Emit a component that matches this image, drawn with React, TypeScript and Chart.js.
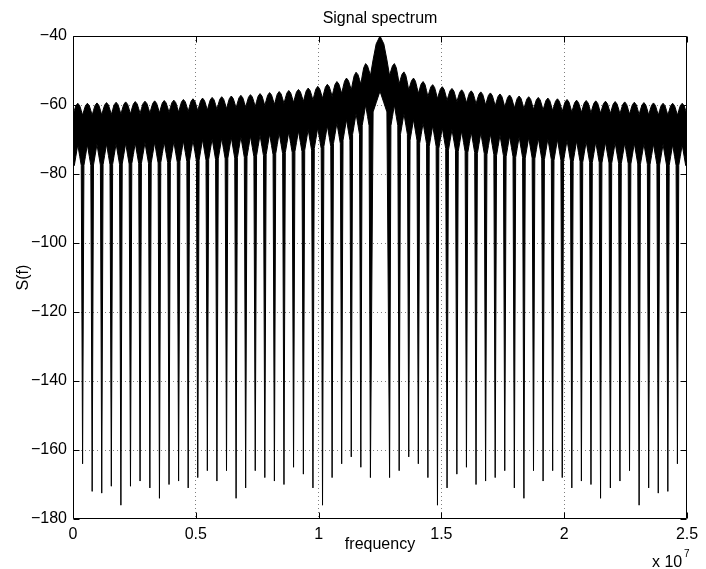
import React, { useEffect, useRef } from 'react';
import { Chart, registerables } from 'chart.js';

Chart.register(...registerables);

const FONT = '"Liberation Sans", Arial, Helvetica, sans-serif';

// Null (lobe boundary) frequencies in MHz; the main lobe spans 12.11 .. 12.89
const nullFreqsMHz = [
  0, 0.39, 0.78, 1.17, 1.56, 1.95, 2.34, 2.73,
  3.13, 3.52, 3.91, 4.30, 4.69, 5.08, 5.47, 5.86,
  6.25, 6.64, 7.03, 7.42, 7.81, 8.20, 8.59, 8.98,
  9.38, 9.77, 10.16, 10.55, 10.94, 11.33, 11.72, 12.11,
  12.89, 13.28, 13.67, 14.06, 14.45, 14.84, 15.23, 15.63,
  16.02, 16.41, 16.80, 17.19, 17.58, 17.97, 18.36, 18.75,
  19.14, 19.53, 19.92, 20.31, 20.70, 21.09, 21.48, 21.88,
  22.27, 22.66, 23.05, 23.44, 23.83, 24.22, 24.61, 25.00,
];

// Peak level of each lobe (dB)
const lobePeaksDb = [
  -59.5, -59.5, -59.4, -59.3, -59.2, -59.1, -59, -58.9, -58.8, -58.7, -58.6,
  -58.4, -58.2, -58, -57.8, -57.6, -57.4, -57.2, -57, -56.7, -56.4,
  -56.1, -55.8, -55.5, -55.1, -54.6, -54, -53.2, -52.2, -50.5, -48,
  -40,
  -48, -50.4, -52.2, -53.2, -54.1, -54.7, -55.2, -55.6, -55.9, -56.2,
  -56.5, -56.8, -57.1, -57.4, -57.6, -57.8, -58, -58.2, -58.4, -58.6,
  -58.7, -58.8, -58.9, -59, -59.1, -59.2, -59.3, -59.4, -59.5, -59.5, -59.5,
];

// Lower edge of the dense band under each lobe centre (dB)
const lobeTroughsDb = [
  -71.5, -71.5, -71.4, -71.3, -71.2, -71.1, -71, -70.9, -70.8, -70.7, -70.6,
  -70.4, -70.2, -70, -69.8, -69.6, -69.4, -69.2, -69, -68.7, -68.4,
  -68.1, -67.8, -67.5, -67.1, -66.6, -66, -65.2, -64.2, -62.5, -60,
  -56,
  -60, -62.5, -64.2, -65.2, -66, -66.6, -67.1, -67.5, -67.8, -68.1,
  -68.4, -68.7, -69, -69.2, -69.4, -69.6, -69.8, -70, -70.2, -70.4,
  -70.6, -70.7, -70.8, -70.9, -71, -71.1, -71.2, -71.3, -71.4, -71.5, -71.5,
];

// Depth reached at each null (dB); first and last are the plot edges
const nullDepthsDb = [
  -78,
  -164, -172, -172.5, -170.5, -176, -170.5, -169, -171, -174, -170,
  -169, -171, -168, -166, -169, -166, -174, -171, -166, -168,
  -169, -170, -165, -167, -171, -176, -168, -164, -162, -165, -168,
  -168, -166, -162, -164, -168, -176, -171, -167, -165, -170,
  -169, -168, -166, -171, -174, -166, -169, -166, -168, -171,
  -169, -170, -174, -171, -169, -166, -176, -171, -172.5, -172, -164,
  -78,
];

const xTickValues = [0, 5e6, 10e6, 15e6, 20e6, 25e6];
const yTickValues = [-180, -160, -140, -120, -100, -80, -60, -40];

// rendering template of a lobe (fraction of lobe width, relative drops)
const OFFS = [0.14, 0.3, 0.5, 0.7, 0.86];
const UPPER_FRAC = [0.6, 0.2, 0, 0.2, 0.6];
const LOWER_FRAC = [1, 0.56, 0, 0.56, 1];
const NOTCH = 3.5;
const SPIKE = 6;

function buildSeries() {
  const upper: { x: number; y: number }[] = [];
  const lower: { x: number; y: number }[] = [];
  const n = lobePeaksDb.length;
  const notchAt = (i: number) => {
    const a = i > 0 ? lobePeaksDb[i - 1] : lobePeaksDb[0];
    const b = i < n ? lobePeaksDb[i] : lobePeaksDb[n - 1];
    return Math.min(a, b) - NOTCH;
  };
  for (let i = 0; i < n; i++) {
    const a = nullFreqsMHz[i] * 1e6;
    const b = nullFreqsMHz[i + 1] * 1e6;
    const w = b - a;
    const p = lobePeaksDb[i];
    const t = lobeTroughsDb[i];
    const nL = notchAt(i);
    const nR = notchAt(i + 1);
    const spike = t - SPIKE;
    if (i === 0) {
      upper.push({ x: a, y: nL });
      lower.push({ x: a, y: nullDepthsDb[0] });
    }
    for (let j = 0; j < OFFS.length; j++) {
      const x = a + OFFS[j] * w;
      const nn = OFFS[j] < 0.5 ? nL : nR;
      upper.push({ x, y: p - (p - nn) * UPPER_FRAC[j] });
      lower.push({ x, y: t - (t - spike) * LOWER_FRAC[j] });
    }
    upper.push({ x: b, y: nR });
    lower.push({ x: b, y: nullDepthsDb[i + 1] });
  }
  return { upper, lower };
}

const matlabFrame = {
  id: 'matlabFrame',
  afterDatasetsDraw(chart: any) {
    const { ctx, chartArea } = chart;
    const { left, right, top, bottom } = chartArea;
    const xs = chart.scales.x;
    const ys = chart.scales.y;
    ctx.save();
    ctx.strokeStyle = '#000';
    ctx.lineWidth = 1;
    ctx.beginPath();
    const L = Math.round(left) + 0.5;
    const R = Math.round(right) - 0.5;
    const T = Math.round(top) + 0.5;
    const B = Math.round(bottom) - 0.5;
    ctx.rect(L, T, R - L, B - T);
    const tl = 6;
    xTickValues.forEach((v) => {
      const px = Math.round(xs.getPixelForValue(v)) + 0.5;
      ctx.moveTo(px, B);
      ctx.lineTo(px, B - tl);
      ctx.moveTo(px, T);
      ctx.lineTo(px, T + tl);
    });
    yTickValues.forEach((v) => {
      const py = Math.round(ys.getPixelForValue(v)) + 0.5;
      ctx.moveTo(L, py);
      ctx.lineTo(L + tl, py);
      ctx.moveTo(R, py);
      ctx.lineTo(R - tl, py);
    });
    ctx.stroke();
    ctx.restore();
  },
  afterDraw(chart: any) {
    const { ctx, chartArea } = chart;
    const cx = (chartArea.left + chartArea.right) / 2;
    ctx.save();
    ctx.fillStyle = '#000';
    ctx.font = `16px ${FONT}`;
    ctx.textAlign = 'center';
    ctx.textBaseline = 'alphabetic';
    ctx.fillText('Signal spectrum', cx, 23);
    ctx.fillText('frequency', cx, 549);
    ctx.save();
    ctx.translate(28, (chartArea.top + chartArea.bottom) / 2);
    ctx.rotate(-Math.PI / 2);
    ctx.fillText('S(f)', 0, 0);
    ctx.restore();
    ctx.textAlign = 'left';
    ctx.fillText('x 10', 652, 567);
    ctx.font = `10px ${FONT}`;
    ctx.fillText('7', 684, 557);
    ctx.restore();
  },
};

export default function App() {
  const ref = useRef<HTMLCanvasElement>(null);
  useEffect(() => {
    const { upper, lower } = buildSeries();
    const gridColor = 'rgba(0,0,0,0.5)';
    const chart = new Chart(ref.current as HTMLCanvasElement, {
      type: 'line',
      data: {
        datasets: [
          {
            data: upper,
            borderColor: '#000',
            borderWidth: 1,
            pointRadius: 0,
            fill: false,
            tension: 0,
          },
          {
            data: lower,
            borderColor: '#000',
            borderWidth: 1,
            pointRadius: 0,
            fill: '-1',
            backgroundColor: '#000',
            tension: 0,
          },
        ],
      },
      options: {
        responsive: false,
        animation: false,
        devicePixelRatio: 1,
        layout: { padding: { left: 0, right: 19, top: 36, bottom: 0 } },
        plugins: {
          legend: { display: false },
          tooltip: { enabled: false },
          title: { display: false },
        },
        elements: { point: { radius: 0 } },
        scales: {
          x: {
            type: 'linear',
            min: 0,
            max: 25e6,
            afterFit: (s: any) => {
              s.height = 50;
            },
            afterBuildTicks: (s: any) => {
              s.ticks = xTickValues.map((v) => ({ value: v }));
            },
            ticks: {
              callback: (v: any) => String(Math.round(Number(v) / 1e6) / 10),
              font: { family: FONT, size: 16 },
              color: '#000',
              padding: 6,
              maxRotation: 0,
              autoSkip: false,
            },
            grid: {
              color: (c: any) =>
                c.tick && (c.tick.value === 0 || c.tick.value === 25e6) ? 'rgba(0,0,0,0)' : gridColor,
              drawTicks: false,
              lineWidth: 1,
            },
            border: { display: false, dash: [1, 3] },
          },
          y: {
            type: 'linear',
            min: -180,
            max: -40,
            afterFit: (s: any) => {
              s.width = 73;
            },
            afterBuildTicks: (s: any) => {
              s.ticks = yTickValues.map((v) => ({ value: v }));
            },
            ticks: {
              callback: (v: any) => (Number(v) < 0 ? '\u2212' + Math.abs(Number(v)) : String(v)),
              font: { family: FONT, size: 16 },
              color: '#000',
              padding: 6,
              autoSkip: false,
            },
            grid: {
              color: (c: any) =>
                c.tick && (c.tick.value === -180 || c.tick.value === -40) ? 'rgba(0,0,0,0)' : gridColor,
              drawTicks: false,
              lineWidth: 1,
            },
            border: { display: false, dash: [1, 3] },
          },
        },
      },
      plugins: [matlabFrame],
    } as any);
    return () => chart.destroy();
  }, []);
  return (
    <div style={{ position: 'fixed', left: 0, top: 0, width: 706, height: 569, background: '#fff' }}>
      <canvas ref={ref} width={706} height={569} style={{ display: 'block', width: 706, height: 569 }} />
    </div>
  );
}
